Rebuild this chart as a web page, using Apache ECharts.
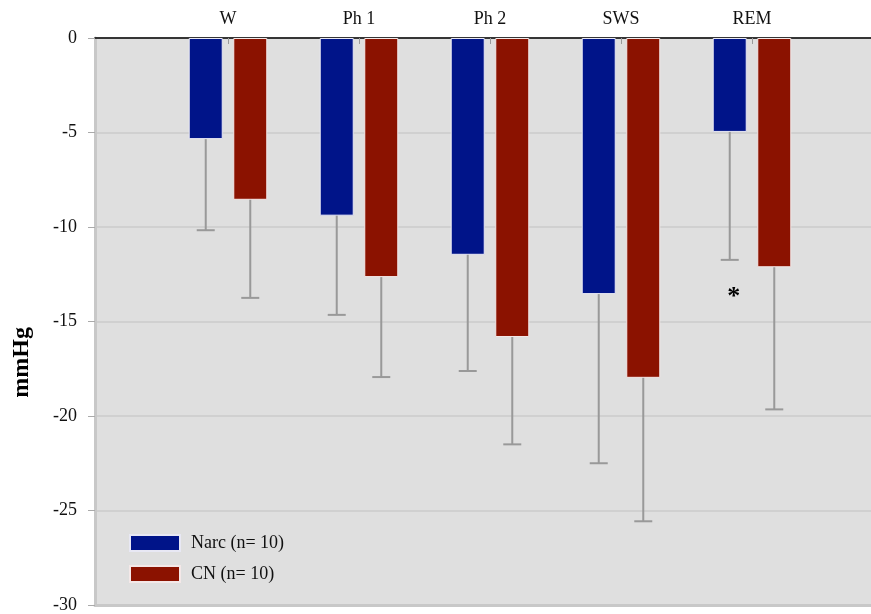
<!DOCTYPE html>
<html>
<head>
<meta charset="utf-8">
<script src="https://cdn.jsdelivr.net/npm/echarts@6/dist/echarts.min.js"></script>
<style>
  html, body { margin: 0; padding: 0; background: #fff; }
  #chart { width: 871px; height: 614px; }
</style>
</head>
<body>
<div id="chart"></div>
<script>
const stages = ["W", "Ph 1", "Ph 2", "SWS", "REM"];
const narcMean = [-5.35, -9.4, -11.47, -13.55, -4.97];
const narcSD = [4.82, 5.25, 6.15, 8.95, 6.77];
const cnMean = [-8.56, -12.65, -15.82, -17.98, -12.13];
const cnSD = [5.19, 5.29, 5.68, 7.59, 7.52];
const narcSig = ["", "", "", "", "*"];
const yTicks = [0, -5, -10, -15, -20, -25, -30];

const serif = "Liberation Serif";
const blue = "#001489";
const red = "#8b1200";
const barW = 34;
const barGap = 0.31;

const chart = echarts.init(document.getElementById("chart"));

// whisker drawn from bar end down by one SD, offset to its bar in the group
function errorSeries(name, means, sds, side, marks) {
  return {
    type: "custom",
    name: name + " err",
    xAxisIndex: 1,
    yAxisIndex: 1,
    z: 5,
    silent: true,
    data: means.map((m, i) => [i, m, m - sds[i]]),
    renderItem: (params, api) => {
      const i = api.value(0);
      const shift = side * (barW + barW * barGap) / 2;
      const top = api.coord([i, api.value(1)]);
      const bot = api.coord([i, api.value(2)]);
      const x = top[0] + shift;
      const style = { stroke: "#999999", lineWidth: 2 };
      const children = [
        { type: "line", shape: { x1: x, y1: top[1], x2: x, y2: bot[1] }, style },
        { type: "line", shape: { x1: x - 9, y1: bot[1], x2: x + 9, y2: bot[1] }, style }
      ];
      if (marks && marks[i]) {
        children.push({
          type: "text",
          x: x + 4,
          y: bot[1] + 37,
          style: { text: marks[i], fontFamily: serif, fontSize: 26, fontWeight: "bold",
                   fill: "#000", align: "center", verticalAlign: "middle" }
        });
      }
      return { type: "group", children };
    }
  };
}

const option = {
  animation: false,
  textStyle: { fontFamily: serif },
  grid: [
    { left: 95, right: -3, top: 38, bottom: 9, show: true, backgroundColor: "#dfdfdf", borderWidth: 0 },
    { left: 162.5, right: 53.5, top: 38, bottom: 9 }
  ],
  xAxis: [
    { type: "value", gridIndex: 0, position: "bottom", min: 0, max: 1,
      axisLine: { show: true, onZero: false, lineStyle: { color: "#c8c8c8", width: 3 } },
      axisTick: { show: false }, axisLabel: { show: false }, splitLine: { show: false } },
    { type: "category", gridIndex: 1, position: "top", data: stages,
      axisLine: { show: false },
      axisTick: { show: true, inside: true, alignWithLabel: true, length: 6,
                  lineStyle: { color: "#999999" } },
      axisLabel: { fontFamily: serif, fontSize: 18, color: "#111", margin: 10 } },
    { type: "value", gridIndex: 0, position: "top", min: 0, max: 1,
      axisLine: { show: true, onZero: false, lineStyle: { color: "#000", width: 1.5 } },
      axisTick: { show: false }, axisLabel: { show: false }, splitLine: { show: false } }
  ],
  yAxis: [
    { type: "value", gridIndex: 0, min: -30, max: 0, interval: 5,
      axisLine: { show: true, lineStyle: { color: "#c8c8c8", width: 3 } },
      axisTick: { show: true, length: 7, lineStyle: { color: "#aaaaaa" } },
      axisLabel: { fontFamily: serif, fontSize: 18, color: "#111", margin: 18,
                   formatter: (v) => yTicks.includes(v) ? String(v) : "" },
      splitLine: { show: true, lineStyle: { color: "#cbcbcb", width: 1.5 } } },
    { type: "value", gridIndex: 1, min: -30, max: 0, interval: 5, show: false }
  ],
  legend: {
    orient: "vertical",
    left: 124,
    top: 529,
    itemWidth: 50,
    itemHeight: 16,
    itemGap: 13,
    icon: "rect",
    data: ["Narc (n= 10)", "CN (n= 10)"],
    textStyle: { fontFamily: serif, fontSize: 18, color: "#111", padding: [0, 0, 0, 6] }
  },
  series: [
    { type: "bar", name: "Narc (n= 10)", xAxisIndex: 1, yAxisIndex: 1, data: narcMean,
      barWidth: barW, barGap: (barGap * 100) + "%",
      itemStyle: { color: blue, borderColor: "#e8e8f4", borderWidth: 1 } },
    { type: "bar", name: "CN (n= 10)", xAxisIndex: 1, yAxisIndex: 1, data: cnMean,
      barWidth: barW,
      itemStyle: { color: red, borderColor: "#f4e8e8", borderWidth: 1 } },
    errorSeries("Narc", narcMean, narcSD, -1, narcSig),
    errorSeries("CN", cnMean, cnSD, 1, null)
  ],
  graphic: [
    { type: "text", left: 10, top: 327, rotation: Math.PI / 2,
      style: { text: "mmHg", fontFamily: serif, fontSize: 24, fontWeight: "bold", fill: "#000" } }
  ]
};

chart.setOption(option);
</script>
</body>
</html>
